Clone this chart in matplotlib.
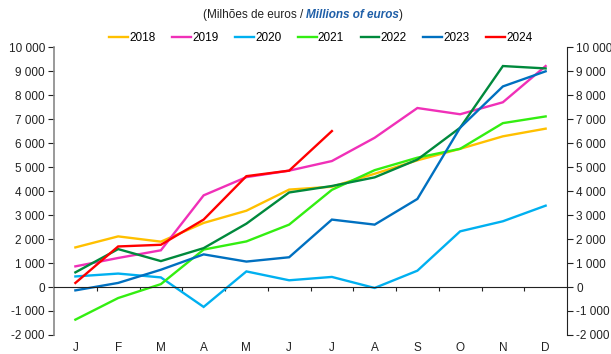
import matplotlib
matplotlib.use("Agg")
import matplotlib.pyplot as plt
from matplotlib.ticker import FuncFormatter, FixedLocator

plt.rcParams['font.family'] = ['Liberation Sans', 'DejaVu Sans']

# Valores acumulados por mês (milhões de euros)
meses = ["J", "F", "M", "A", "M", "J", "J", "A", "S", "O", "N", "D"]
anos = ["2018", "2019", "2020", "2021", "2022", "2023", "2024"]
v2018 = [1650, 2110, 1890, 2670, 3180, 4060, 4180, 4720, 5280, 5760, 6280, 6600]
v2019 = [860, 1210, 1530, 3820, 4580, 4850, 5250, 6220, 7460, 7200, 7700, 9210]
v2020 = [440, 560, 400, -830, 650, 280, 420, -40, 680, 2320, 2740, 3390]
v2021 = [-1360, -460, 120, 1560, 1900, 2600, 4050, 4870, 5390, 5760, 6830, 7110]
v2022 = [610, 1580, 1080, 1620, 2640, 3940, 4210, 4570, 5310, 6640, 9210, 9110]
v2023 = [-140, 170, 720, 1360, 1060, 1240, 2810, 2600, 3670, 6640, 8360, 8990]
v2024 = [170, 1690, 1760, 2810, 4620, 4850, 6500]

series = [v2018, v2019, v2020, v2021, v2022, v2023, v2024]
cores = ["#FFC000", "#F030B8", "#00B0F0", "#33EE11", "#00893C", "#0070C0", "#FF0000"]

fig = plt.figure(figsize=(6.11, 3.54), dpi=100)
ax = fig.add_axes([0.0884, 0.0537, 0.8396, 0.8133])

for nome, vals, cor in zip(anos, series, cores):
    ax.plot(range(len(vals)), vals, color=cor, lw=1.7, label=nome,
            solid_joinstyle='miter')

ax.set_xlim(-0.5, 11.5)
ax.set_ylim(-2000, 10000)

fmt = FuncFormatter(lambda v, p: f"{int(v):,}".replace(",", " "))
ax.yaxis.set_major_locator(FixedLocator(range(-2000, 10001, 1000)))
ax.yaxis.set_major_formatter(fmt)
ax.tick_params(axis='y', labelsize=8.5, length=4, width=0.8, pad=2.5,
               left=True, right=True, labelright=True, colors='#222222')

# eixo horizontal no zero, com traços entre as categorias
ax.spines['bottom'].set_position(('data', 0))
ax.spines['top'].set_visible(False)
ax.spines['left'].set_color('#888888')
ax.spines['left'].set_linewidth(1.2)
ax.spines['right'].set_color('#222222')
ax.spines['bottom'].set_color('#222222')
ax.set_xticks([i + 0.5 for i in range(11)])
ax.set_xticklabels([])
ax.tick_params(axis='x', length=3, width=0.8, direction='out', colors='#222222')

for i, m in enumerate(meses):
    ax.text(i, -0.045, m, transform=ax.get_xaxis_transform(),
            ha='center', va='center', fontsize=8.5, color='#222222')

fig.legend(loc='center', bbox_to_anchor=(0.525, 0.893), ncol=7, frameon=False,
           fontsize=8.5, handlelength=1.6, handletextpad=0.1, columnspacing=1.4)

# subtítulo em duas partes (português / inglês)
t1 = fig.text(0.332, 0.958, "(Milhões de euros / ", ha='left', va='center',
              fontsize=8.5, color='#222222')
t2 = ax.annotate("Millions of euros", xycoords=t1, xy=(1, 0.5), va='center',
                 fontsize=8.5, color='#1F5FA8', fontweight='bold',
                 fontstyle='italic', annotation_clip=False)
ax.annotate(")", xycoords=t2, xy=(1, 0.5), va='center', fontsize=8.5,
            color='#222222', annotation_clip=False)

fig.savefig("out.png", dpi=100)
